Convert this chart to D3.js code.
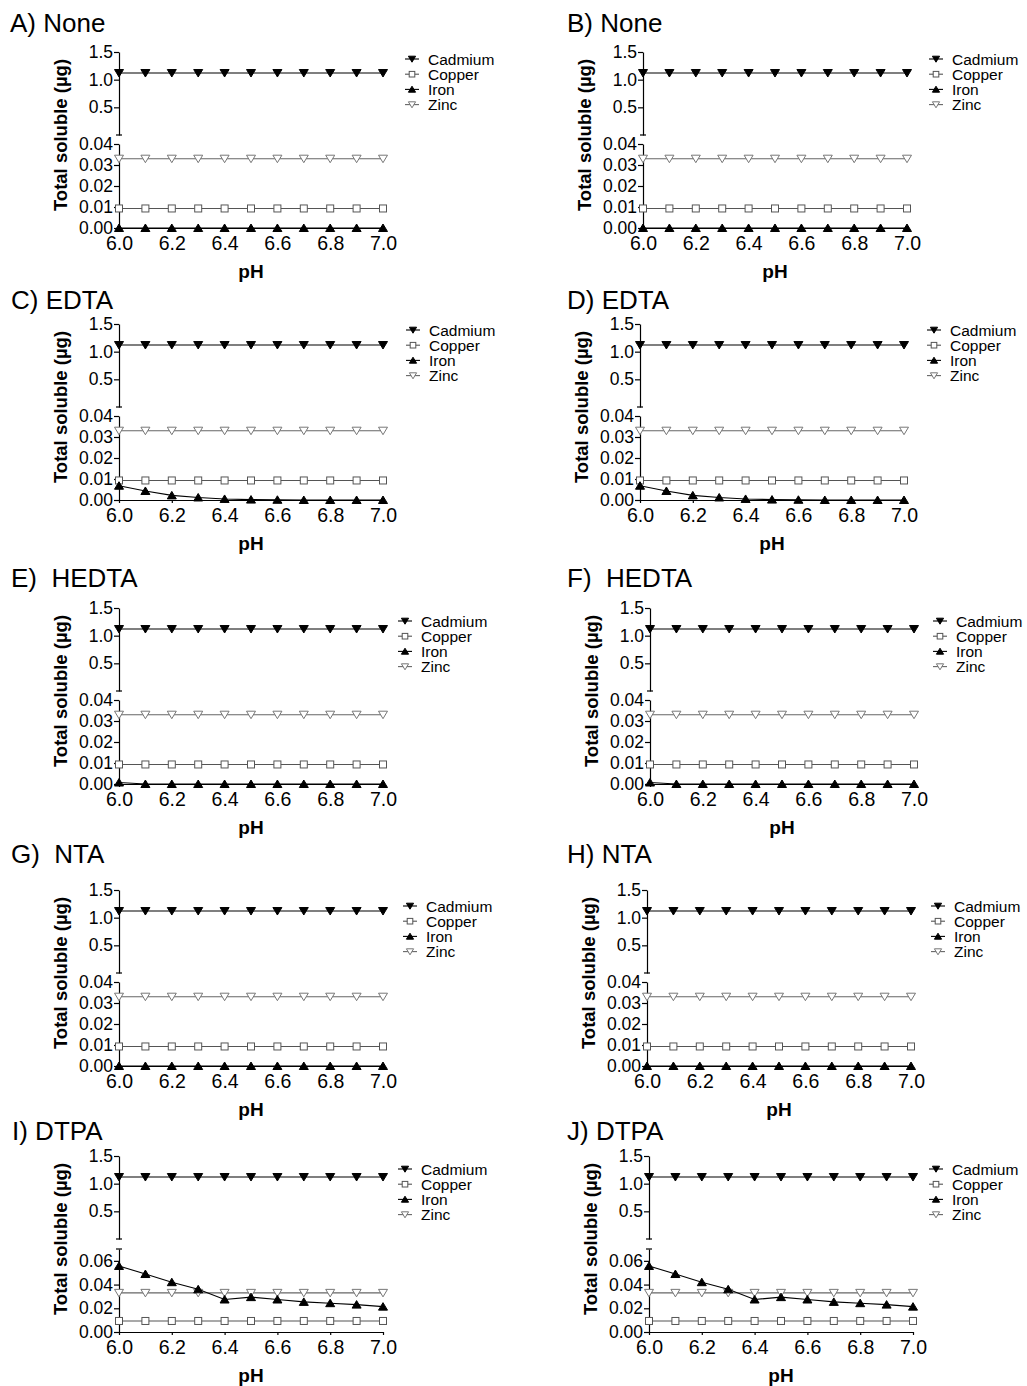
<!DOCTYPE html>
<html>
<head>
<meta charset="utf-8">
<script src="https://cdn.jsdelivr.net/npm/d3@7"></script>
<style>
  body { margin: 0; background: #fff; }
  svg { font-family: "Liberation Sans", Arial, sans-serif; }
</style>
</head>
<body>
<script>
// data
const pH = [6.0, 6.1, 6.2, 6.3, 6.4, 6.5, 6.6, 6.7, 6.8, 6.9, 7.0]
const metals = ["Cadmium", "Copper", "Iron", "Zinc"]

const cadmium = [1.12, 1.12, 1.12, 1.12, 1.12, 1.12, 1.12, 1.12, 1.12, 1.12, 1.12]
const copper = [0.0093, 0.0093, 0.0093, 0.0093, 0.0093, 0.0093, 0.0093, 0.0093, 0.0093, 0.0093, 0.0093]
const zinc = [0.033, 0.033, 0.033, 0.033, 0.033, 0.033, 0.033, 0.033, 0.033, 0.033, 0.033]

const ironNone = [0, 0, 0, 0, 0, 0, 0, 0, 0, 0, 0]
const ironEDTA = [0.0068, 0.0043, 0.0022, 0.0012, 0.0005, 0.0002, 0.0001, 0, 0, 0, 0]
const ironHEDTA = [0.0007, 0, 0, 0, 0, 0, 0, 0, 0, 0, 0]
const ironNTA = [0, 0, 0, 0, 0, 0, 0, 0, 0, 0, 0]
const ironDTPA = [0.0557, 0.0489, 0.042, 0.036, 0.0274, 0.0294, 0.0274, 0.0254, 0.0243, 0.0231, 0.0214]

const xTicks = [6.0, 6.2, 6.4, 6.6, 6.8, 7.0]
const upperTicks = [0.5, 1.0, 1.5]
const lowerTicks = [0, 0.01, 0.02, 0.03, 0.04]
const lowerTicksDTPA = [0, 0.02, 0.04, 0.06]

const titles = ["A) None", "B) None", "C) EDTA", "D) EDTA", "E)  HEDTA", "F)  HEDTA", "G)  NTA", "H) NTA", "I) DTPA", "J) DTPA"]
const ironByPanel = [ironNone, ironNone, ironEDTA, ironEDTA, ironHEDTA, ironHEDTA, ironNTA, ironNTA, ironDTPA, ironDTPA]

// layout of each panel (axis origin, title spot, legend offset)
const layout = [
  {x0: 119, yTop: 52, tx: 10, ty: 32, lx: 293, ly: 7},
  {x0: 643, yTop: 52, tx: 567, ty: 32, lx: 293, ly: 7},
  {x0: 119, yTop: 324, tx: 11, ty: 309, lx: 294, ly: 6},
  {x0: 640, yTop: 324, tx: 567, ty: 309, lx: 294, ly: 6},
  {x0: 119, yTop: 608, tx: 11, ty: 587, lx: 286, ly: 13},
  {x0: 650, yTop: 608, tx: 567, ty: 587, lx: 290, ly: 13},
  {x0: 119, yTop: 890, tx: 11, ty: 863, lx: 291, ly: 16},
  {x0: 647, yTop: 890, tx: 567, ty: 863, lx: 291, ly: 16},
  {x0: 119, yTop: 1156, tx: 12, ty: 1140, lx: 286, ly: 13},
  {x0: 649, yTop: 1156, tx: 567, ty: 1140, lx: 287, ly: 13}
]

const W = 1027, H = 1386
const plotW = 264

const style = {
  Cadmium: {line: "#000", stroke: "#000", fill: "#000", sym: "down"},
  Copper: {line: "#555", stroke: "#555", fill: "#fff", sym: "square"},
  Iron: {line: "#000", stroke: "#000", fill: "#000", sym: "up"},
  Zinc: {line: "#666", stroke: "#777", fill: "#fff", sym: "down"}
}

const svg = d3.select("body").append("svg")
  .attr("width", W)
  .attr("height", H)

function marker(g, x, y, s, k) {
  k = k || 1
  if (s.sym == "square") {
    g.append("rect")
      .attr("x", x - 3.5 * k).attr("y", y - 3.5 * k)
      .attr("width", 7 * k).attr("height", 7 * k)
      .attr("fill", s.fill).attr("stroke", s.stroke).attr("stroke-width", 1)
  } else {
    const pts = s.sym == "up"
      ? [[x - 4.5 * k, y + 3.5 * k], [x + 4.5 * k, y + 3.5 * k], [x, y - 4 * k]]
      : [[x - 4.5 * k, y - 3.5 * k], [x + 4.5 * k, y - 3.5 * k], [x, y + 4 * k]]
    g.append("polygon")
      .attr("points", pts.map(p => p.join(",")).join(" "))
      .attr("fill", s.fill).attr("stroke", s.stroke).attr("stroke-width", 1)
  }
}

titles.forEach((title, i) => {
  const L = layout[i]
  const isDTPA = title.indexOf("DTPA") >= 0
  const lowMax = isDTPA ? 0.07 : 0.04
  const g = svg.append("g")

  const x = d3.scaleLinear().domain([6, 7]).range([L.x0, L.x0 + plotW])
  const yUp = d3.scaleLinear().domain([0, 1.5]).range([L.yTop + 83, L.yTop])
  const yLow = d3.scaleLinear().domain([0, lowMax]).range([L.yTop + 176, L.yTop + (isDTPA ? 93 : 92)])
  const y = v => v > lowMax ? yUp(v) : yLow(v)

  // title
  g.append("text")
    .attr("x", L.tx).attr("y", L.ty)
    .style("font-size", "26px")
    .style("white-space", "pre")
    .text(title)

  // upper y segment
  const up = g.append("g")
    .attr("transform", "translate(" + L.x0 + ",0)")
    .call(d3.axisLeft(yUp).tickValues(upperTicks).tickFormat(d3.format(".1f")).tickSize(5).tickPadding(1).tickSizeOuter(0))
  // lower y segment
  const low = g.append("g")
    .attr("transform", "translate(" + L.x0 + ",0)")
    .call(d3.axisLeft(yLow).tickValues(isDTPA ? lowerTicksDTPA : lowerTicks).tickFormat(d3.format(".2f")).tickSize(5).tickPadding(1).tickSizeOuter(0))
  ;[up, low].forEach(a => {
    a.selectAll("text").style("font-size", "17.5px").attr("fill", "#000")
    a.selectAll("line, path").attr("stroke", "#000").attr("stroke-width", 1.2)
  })
  // break caps
  g.append("line")
    .attr("x1", L.x0 - 3).attr("x2", L.x0 + 3)
    .attr("y1", yUp(0)).attr("y2", yUp(0))
    .attr("stroke", "#000").attr("stroke-width", 1.2)
  if (isDTPA) {
    g.append("line")
      .attr("x1", L.x0 - 3).attr("x2", L.x0 + 3)
      .attr("y1", yLow(lowMax)).attr("y2", yLow(lowMax))
      .attr("stroke", "#000").attr("stroke-width", 1.2)
  }

  // x axis
  const xa = g.append("g")
    .attr("transform", "translate(0," + yLow(0) + ")")
    .call(d3.axisBottom(x).tickValues(xTicks).tickFormat(d3.format(".1f")).tickSize(3).tickPadding(5).tickSizeOuter(0))
  xa.selectAll("text").style("font-size", "19.5px").attr("fill", "#000")
  xa.selectAll("line, path").attr("stroke", "#000").attr("stroke-width", 1.2)

  // axis titles
  g.append("text")
    .attr("transform", "translate(" + (L.x0 - 52) + "," + (L.yTop + 83) + ") rotate(-90)")
    .attr("text-anchor", "middle")
    .style("font-size", "18.5px").style("font-weight", "bold")
    .text("Total soluble (µg)")
  g.append("text")
    .attr("x", L.x0 + plotW / 2).attr("y", yLow(0) + 50)
    .attr("text-anchor", "middle")
    .style("font-size", "19px").style("font-weight", "bold")
    .text("pH")

  // series
  const seriesData = {Cadmium: cadmium, Copper: copper, Iron: ironByPanel[i], Zinc: zinc}
  const drawOrder = ["Zinc", "Copper", "Cadmium", "Iron"]
  const line = d3.line().x(d => x(d[0])).y(d => y(d[1]))
  drawOrder.forEach(m => {
    const pts = pH.map((p, k) => [p, seriesData[m][k]])
    g.append("path")
      .attr("d", line(pts))
      .attr("fill", "none")
      .attr("stroke", style[m].line)
      .attr("stroke-width", 1.1)
    pts.forEach(p => marker(g, x(p[0]), y(p[1]), style[m]))
  })

  // legend (rows are tight in the original too)
  metals.forEach((m, k) => {
    const mx = L.x0 + L.lx
    const my = L.yTop + L.ly + k * 15.2
    g.append("line")
      .attr("x1", mx - 7).attr("x2", mx + 7)
      .attr("y1", my).attr("y2", my)
      .attr("stroke", style[m].line).attr("stroke-width", 1.1)
    marker(g, mx, my, style[m], 0.8)
    g.append("text")
      .attr("x", mx + 16).attr("y", my)
      .attr("dy", "0.36em")
      .style("font-size", "15.5px")
      .text(m)
  })
})
</script>
</body>
</html>
